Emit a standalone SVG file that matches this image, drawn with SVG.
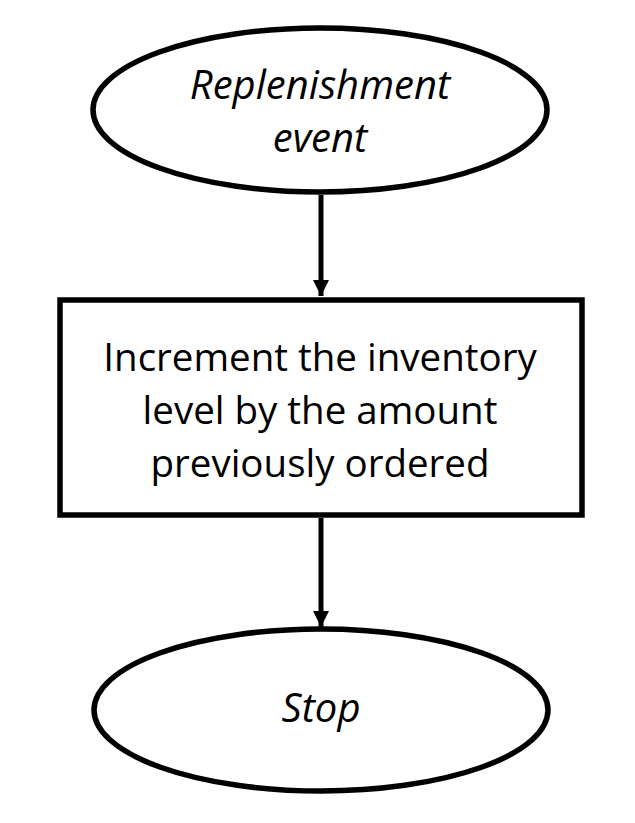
<svg xmlns="http://www.w3.org/2000/svg" width="635" height="823" viewBox="0 0 635 823">
<defs>
<style>
.node{fill:#fff;stroke:#000;stroke-width:5.5}
.lbl{font-family:"Open Sans","Noto Sans","Liberation Sans",sans-serif;font-size:38.5px;fill:#000;text-anchor:middle}
.it{font-style:italic;font-size:40px}
.edge{stroke:#000;stroke-width:5;fill:none}
</style>
<marker id="ah" markerUnits="userSpaceOnUse" markerWidth="18" markerHeight="16" refX="16" refY="8" orient="auto">
<path d="M0,0 L16,8 L0,16 Z" fill="#000"/>
</marker>
</defs>
<rect width="635" height="823" fill="#fff"/>
<g id="connectors">
<line class="edge" x1="321" y1="195" x2="321" y2="296" marker-end="url(#ah)"/>
<line class="edge" x1="321" y1="518" x2="321" y2="627" marker-end="url(#ah)"/>
</g>
<g id="start">
<ellipse class="node" cx="320" cy="110" rx="227" ry="82"/>
<text class="lbl it" x="320" y="99">Replenishment</text>
<text class="lbl it" x="320" y="152">event</text>
</g>
<g id="increment">
<rect class="node" x="60" y="300" width="522" height="215"/>
<text class="lbl" x="320" y="371">Increment the inventory</text>
<text class="lbl" x="320" y="424">level by the amount</text>
<text class="lbl" x="320" y="477">previously ordered</text>
</g>
<g id="stop">
<ellipse class="node" cx="321" cy="710" rx="227" ry="81"/>
<text class="lbl it" x="321" y="722">Stop</text>
</g>
</svg>
